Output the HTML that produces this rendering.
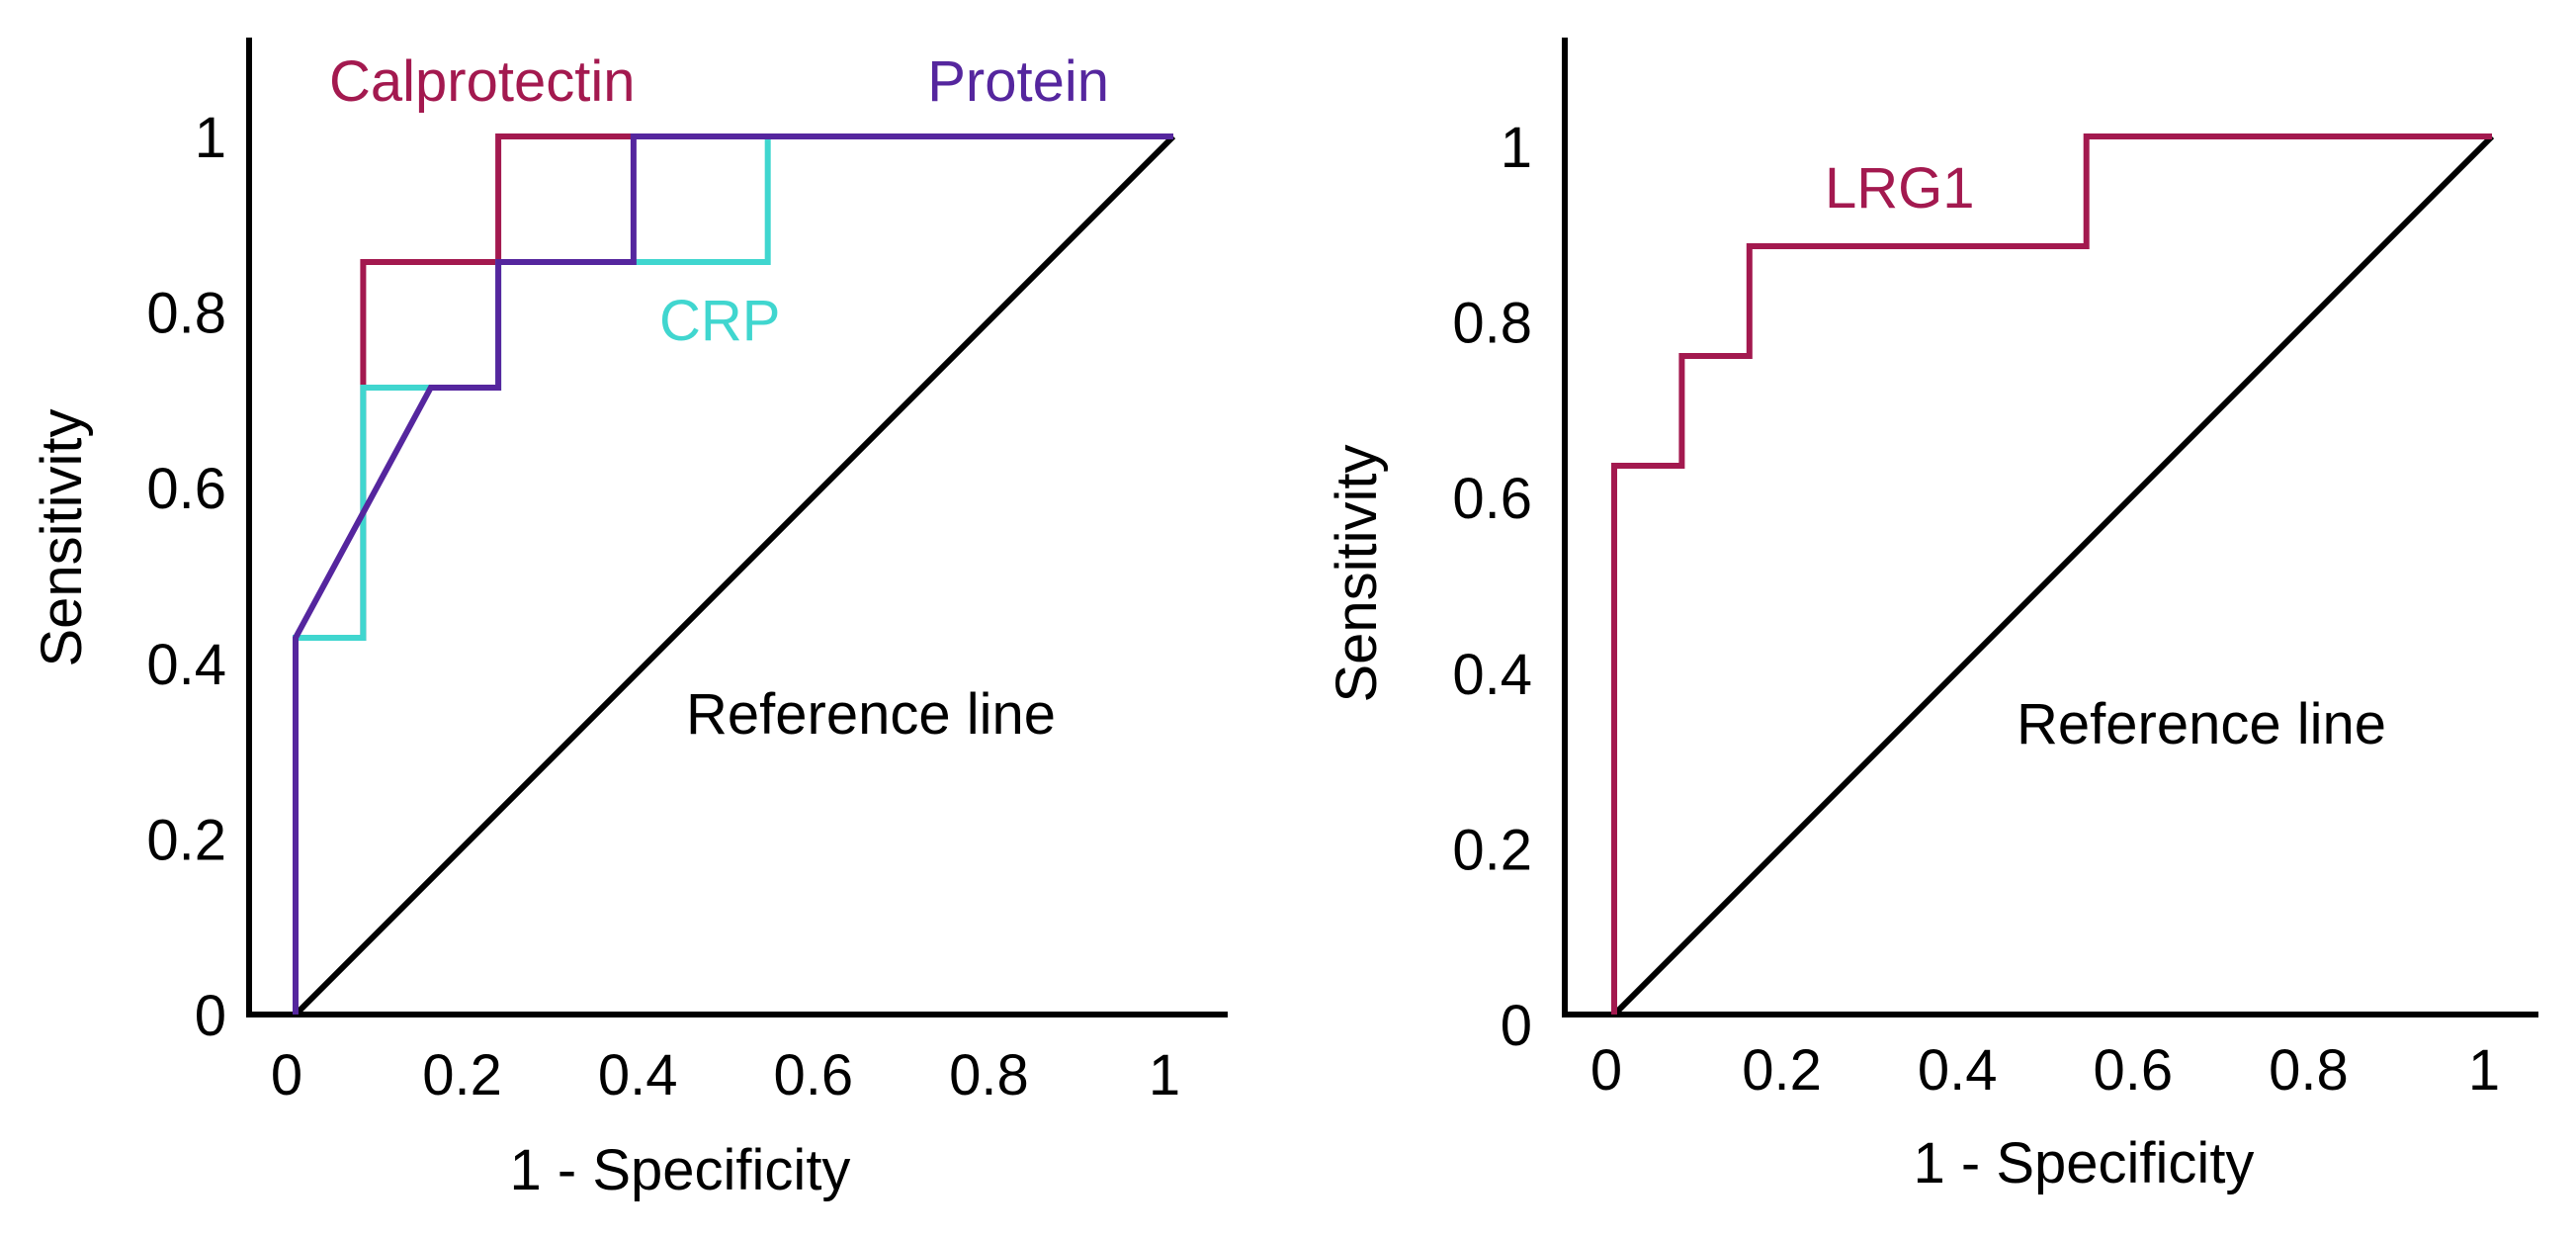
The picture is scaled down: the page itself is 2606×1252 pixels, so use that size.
<!DOCTYPE html>
<html><head><meta charset="utf-8"><style>
html,body{margin:0;padding:0;background:#fff;}
svg{display:block;font-family:"Liberation Sans",Arial,sans-serif;}
</style></head><body>
<svg id="chart" width="2606" height="1252" viewBox="0 0 2606 1252" xmlns="http://www.w3.org/2000/svg"></svg>
<script>
// ---- data ----
const xTicks = [0, 0.2, 0.4, 0.6, 0.8, 1];
const yTicks = [0, 0.2, 0.4, 0.6, 0.8, 1];
const xTickLabels = ["0", "0.2", "0.4", "0.6", "0.8", "1"];
const yTickLabels = ["0", "0.2", "0.4", "0.6", "0.8", "1"];
const calproX = [0, 0, 0.077, 0.077, 0.231, 0.231, 1];
const calproY = [0, 0.429, 0.429, 0.857, 0.857, 1, 1];
const crpX = [0, 0, 0.077, 0.077, 0.154, 0.231, 0.231, 0.538, 0.538, 1];
const crpY = [0, 0.429, 0.429, 0.714, 0.714, 0.714, 0.857, 0.857, 1, 1];
const proteinX = [0, 0, 0.154, 0.231, 0.231, 0.385, 0.385, 1];
const proteinY = [0, 0.429, 0.714, 0.714, 0.857, 0.857, 1, 1];
const lrgX = [0, 0, 0.077, 0.077, 0.154, 0.154, 0.538, 0.538, 1];
const lrgY = [0, 0.625, 0.625, 0.75, 0.75, 0.875, 0.875, 1, 1];
const refX = [0, 1];
const refY = [0, 1];

const NS = "http://www.w3.org/2000/svg";
const svg = document.getElementById("chart");
function mk(tag, attrs, parent, text) {
  const e = document.createElementNS(NS, tag);
  for (const k in attrs) e.setAttribute(k, attrs[k]);
  if (text !== undefined) e.textContent = text;
  parent.appendChild(e);
  return e;
}

function panel(cfg) {
  const g = mk("g", {}, svg);
  
  
  const sx = v => cfg.x0 + v * cfg.w;
  const sy = v => cfg.y0 - v * cfg.h;
  const ax = mk("path", {d: `M${cfg.axX} ${cfg.axTop} L${cfg.axX} ${cfg.y0} L${cfg.axRight} ${cfg.y0}`, fill: "none", stroke: "#000", "stroke-width": 6}, g);
  
  
  xTicks.forEach((t, i) => {
    const tx = mk("text", {x: cfg.xLabX0 + t * cfg.w, y: cfg.xLabY, "font-size": 58, "text-anchor": "middle", fill: "#000"}, g, xTickLabels[i]);
    
    
  });
  yTicks.forEach((t, i) => {
    const ty = mk("text", {x: cfg.yLabX, y: sy(t) + cfg.yLabOff, "font-size": 58, "text-anchor": "end", fill: "#000"}, g, yTickLabels[i]);
    
    
  });
  cfg.series.forEach(s => {
    const d = s.xs.map((v, i) => (i ? "L" : "M") + sx(v).toFixed(1) + " " + sy(s.ys[i]).toFixed(1)).join(" ");
    const p = mk("path", {d: d, fill: "none", stroke: s.color, "stroke-width": s.w || 6, "stroke-linejoin": "miter"}, g);
    
    
  });
  cfg.labels.forEach(l => {
    const t = mk("text", {x: l.x, y: l.y, "font-size": 58, fill: l.color, "text-anchor": l.anchor || "start"}, g, l.text);
    
    
  });
  const xt = mk("text", {x: cfg.xTitleX, y: cfg.xTitleY, "font-size": 58, "text-anchor": "middle", fill: "#000"}, g, "1 - Specificity");
  
  
  const yt = mk("text", {x: 0, y: 0, "font-size": 58, "text-anchor": "middle", fill: "#000", transform: `translate(${cfg.yTitleX},${cfg.yTitleY}) rotate(-90)`}, g, "Sensitivity");
  
  
}

panel({
  name: "left-roc-panel", x0: 299, y0: 1026, w: 888, h: 888,
  axX: 252, axTop: 38, axRight: 1242,
  xLabX0: 290, xLabY: 1107, yLabX: 229, yLabOff: 21,
  xTitleX: 688, xTitleY: 1203, yTitleX: 82, yTitleY: 544,
  series: [
    {name: "reference-line", xs: refX, ys: refY, color: "#000", w: 6},
    {name: "calprotectin-curve", xs: calproX, ys: calproY, color: "#a3194f"},
    {name: "crp-curve", xs: crpX, ys: crpY, color: "#40d6cf"},
    {name: "protein-curve", xs: proteinX, ys: proteinY, color: "#55269e"}
  ],
  labels: [
    {name: "calprotectin-label", text: "Calprotectin", x: 333, y: 102, color: "#a3194f"},
    {name: "protein-label", text: "Protein", x: 1122, y: 102, color: "#55269e", anchor: "end"},
    {name: "crp-label", text: "CRP", x: 667, y: 344, color: "#40d6cf"},
    {name: "reference-line-label", text: "Reference line", x: 694, y: 742, color: "#000"}
  ]
});

panel({
  name: "right-roc-panel", x0: 1633, y0: 1026, w: 888, h: 888,
  axX: 1583, axTop: 38, axRight: 2568,
  xLabX0: 1625, xLabY: 1102, yLabX: 1550, yLabOff: 31,
  xTitleX: 2108, xTitleY: 1196, yTitleX: 1392, yTitleY: 580,
  series: [
    {name: "reference-line", xs: refX, ys: refY, color: "#000", w: 6},
    {name: "lrg1-curve", xs: lrgX, ys: lrgY, color: "#a3194f"}
  ],
  labels: [
    {name: "lrg1-label", text: "LRG1", x: 1846, y: 210, color: "#a3194f"},
    {name: "reference-line-label", text: "Reference line", x: 2040, y: 752, color: "#000"}
  ]
});
</script>
</body></html>
